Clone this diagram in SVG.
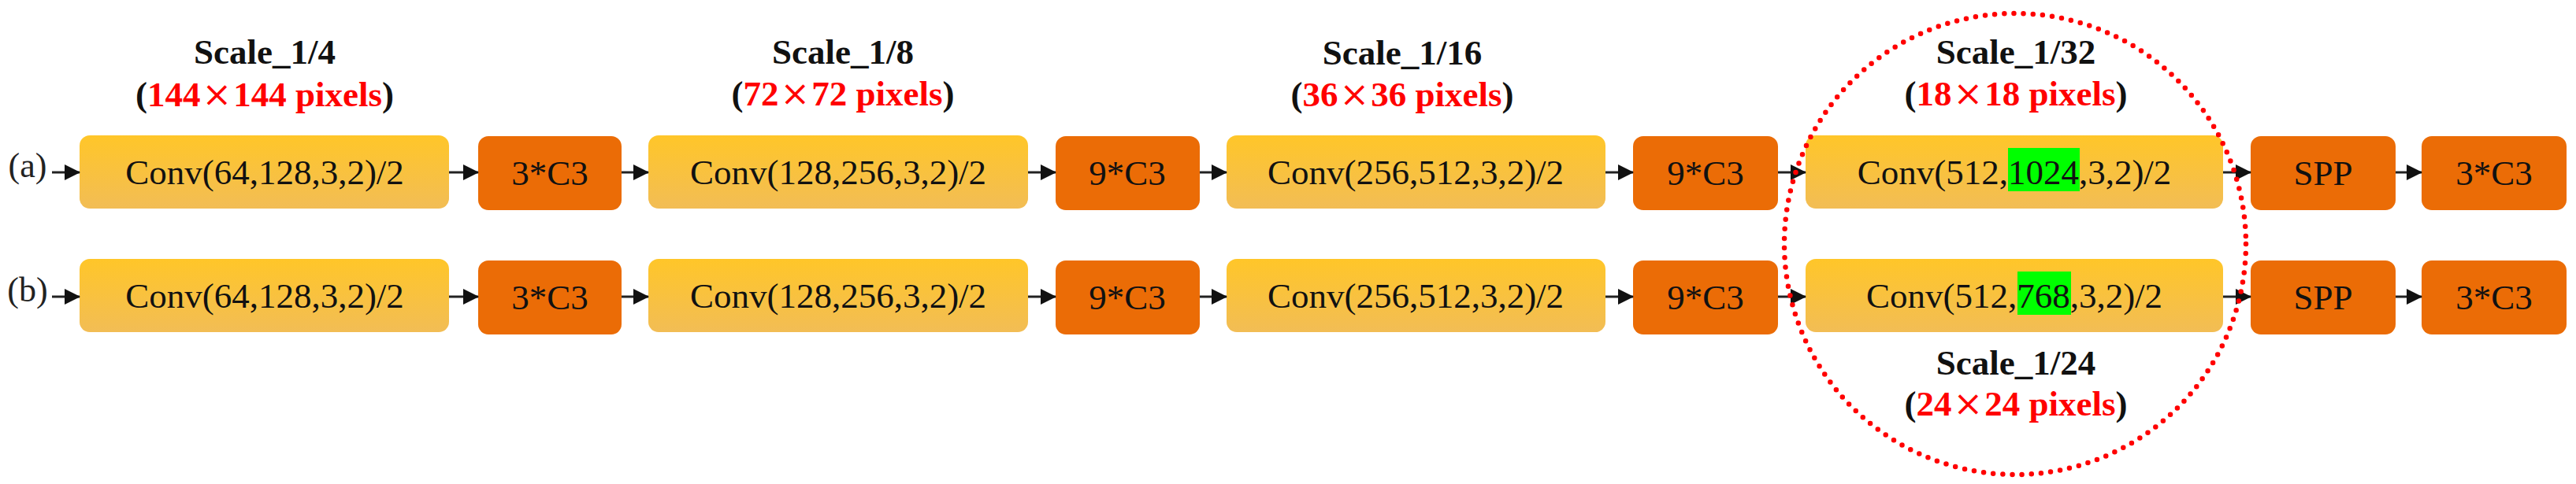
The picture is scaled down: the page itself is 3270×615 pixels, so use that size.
<svg xmlns="http://www.w3.org/2000/svg" width="3270" height="615" viewBox="0 0 3270 615">
<defs>
<linearGradient id="yg" x1="0" y1="0" x2="0" y2="1">
<stop offset="0" stop-color="#FFC629"/>
<stop offset="1" stop-color="#F2BD55"/>
</linearGradient>
<marker id="ah" markerUnits="userSpaceOnUse" markerWidth="20" markerHeight="20" refX="19" refY="10" orient="auto">
<path d="M0,0 L20,10 L0,20 Z" fill="#111"/>
</marker>
</defs>
<style>
.y{fill:url(#yg);}
.o{fill:#EB6C06;}
.t{font-family:"Liberation Serif","Times New Roman",serif;font-size:45px;fill:#111;text-anchor:middle;}
.lab{font-family:"Liberation Serif","Times New Roman",serif;font-size:44px;fill:#222;text-anchor:middle;}
.h1{font-family:"Liberation Serif","Times New Roman",serif;font-size:45px;font-weight:bold;fill:#111;text-anchor:middle;}
.red{fill:#FF0000;}
.x{font-family:"DejaVu Serif",serif;font-weight:normal;}
.conn line{stroke:#222;stroke-width:3;marker-end:url(#ah);}
.hl{fill:#00FF00;}
</style>
<rect width="3270" height="615" fill="#fff"/>

<g id="headings">
<text class="h1" x="336" y="81">Scale_1/4</text>
<text class="h1" x="336" y="135">(<tspan class="red">144<tspan class="x" dx="2">×</tspan><tspan dx="2">144 pixels</tspan></tspan>)</text>
<text class="h1" x="1070" y="81">Scale_1/8</text>
<text class="h1" x="1070" y="134">(<tspan class="red">72<tspan class="x" dx="2">×</tspan><tspan dx="2">72 pixels</tspan></tspan>)</text>
<text class="h1" x="1780" y="82">Scale_1/16</text>
<text class="h1" x="1780" y="135">(<tspan class="red">36<tspan class="x" dx="2">×</tspan><tspan dx="2">36 pixels</tspan></tspan>)</text>
<text class="h1" x="2559" y="81">Scale_1/32</text>
<text class="h1" x="2559" y="134">(<tspan class="red">18<tspan class="x" dx="2">×</tspan><tspan dx="2">18 pixels</tspan></tspan>)</text>
<text class="h1" x="2559" y="476">Scale_1/24</text>
<text class="h1" x="2559" y="528">(<tspan class="red">24<tspan class="x" dx="2">×</tspan><tspan dx="2">24 pixels</tspan></tspan>)</text>
</g>

<g id="row-labels">
<text class="lab" x="35" y="225">(a)</text>
<text class="lab" x="35" y="383">(b)</text>
</g>

<g id="a-conv1"><rect class="y" x="101" y="172" width="469" height="93" rx="13"/><text class="t" x="336" y="234">Conv(64,128,3,2)/2</text></g>
<g id="a-c3-1"><rect class="o" x="607" y="173" width="182" height="94" rx="13"/><text class="t" x="698" y="235">3*C3</text></g>
<g id="a-conv2"><rect class="y" x="823" y="172" width="482" height="93" rx="13"/><text class="t" x="1064" y="234">Conv(128,256,3,2)/2</text></g>
<g id="a-c3-2"><rect class="o" x="1340" y="173" width="183" height="94" rx="13"/><text class="t" x="1431" y="235">9*C3</text></g>
<g id="a-conv3"><rect class="y" x="1557" y="172" width="481" height="93" rx="13"/><text class="t" x="1797" y="234">Conv(256,512,3,2)/2</text></g>
<g id="a-c3-3"><rect class="o" x="2073" y="173" width="184" height="94" rx="13"/><text class="t" x="2165" y="235">9*C3</text></g>
<g id="a-conv4"><rect class="y" x="2292" y="172" width="530" height="93" rx="13"/><rect class="hl" x="2549" y="188" width="91" height="55"/><text class="t" x="2557" y="234">Conv(512,1024,3,2)/2</text></g>
<g id="a-spp"><rect class="o" x="2857" y="173" width="184" height="94" rx="13"/><text class="t" x="2949" y="235">SPP</text></g>
<g id="a-c3-4"><rect class="o" x="3074" y="173" width="184" height="94" rx="13"/><text class="t" x="3166" y="235">3*C3</text></g>

<g id="b-conv1"><rect class="y" x="101" y="329" width="469" height="93" rx="13"/><text class="t" x="336" y="391">Conv(64,128,3,2)/2</text></g>
<g id="b-c3-1"><rect class="o" x="607" y="331" width="182" height="94" rx="13"/><text class="t" x="698" y="393">3*C3</text></g>
<g id="b-conv2"><rect class="y" x="823" y="329" width="482" height="93" rx="13"/><text class="t" x="1064" y="391">Conv(128,256,3,2)/2</text></g>
<g id="b-c3-2"><rect class="o" x="1340" y="331" width="183" height="94" rx="13"/><text class="t" x="1431" y="393">9*C3</text></g>
<g id="b-conv3"><rect class="y" x="1557" y="329" width="481" height="93" rx="13"/><text class="t" x="1797" y="391">Conv(256,512,3,2)/2</text></g>
<g id="b-c3-3"><rect class="o" x="2073" y="331" width="184" height="94" rx="13"/><text class="t" x="2165" y="393">9*C3</text></g>
<g id="b-conv4"><rect class="y" x="2292" y="329" width="530" height="93" rx="13"/><rect class="hl" x="2561" y="345" width="68" height="55"/><text class="t" x="2557" y="391">Conv(512,768,3,2)/2</text></g>
<g id="b-spp"><rect class="o" x="2857" y="331" width="184" height="94" rx="13"/><text class="t" x="2949" y="393">SPP</text></g>
<g id="b-c3-4"><rect class="o" x="3074" y="331" width="184" height="94" rx="13"/><text class="t" x="3166" y="393">3*C3</text></g>

<g id="connectors" class="conn">
<line x1="66" y1="219" x2="101" y2="219"/>
<line x1="570" y1="219" x2="607" y2="219"/>
<line x1="789" y1="219" x2="823" y2="219"/>
<line x1="1305" y1="219" x2="1340" y2="219"/>
<line x1="1523" y1="219" x2="1557" y2="219"/>
<line x1="2038" y1="219" x2="2073" y2="219"/>
<line x1="2257" y1="219" x2="2292" y2="219"/>
<line x1="2822" y1="219" x2="2857" y2="219"/>
<line x1="3041" y1="219" x2="3074" y2="219"/>
<line x1="66" y1="377" x2="101" y2="377"/>
<line x1="570" y1="377" x2="607" y2="377"/>
<line x1="789" y1="377" x2="823" y2="377"/>
<line x1="1305" y1="377" x2="1340" y2="377"/>
<line x1="1523" y1="377" x2="1557" y2="377"/>
<line x1="2038" y1="377" x2="2073" y2="377"/>
<line x1="2257" y1="377" x2="2292" y2="377"/>
<line x1="2822" y1="377" x2="2857" y2="377"/>
<line x1="3041" y1="377" x2="3074" y2="377"/>
</g>

<g id="highlight-circle">
<circle cx="2558" cy="310" r="293" fill="none" stroke="#FF0000" stroke-width="6.5" stroke-linecap="round" stroke-dasharray="0 12.2"/>
</g>
</svg>
